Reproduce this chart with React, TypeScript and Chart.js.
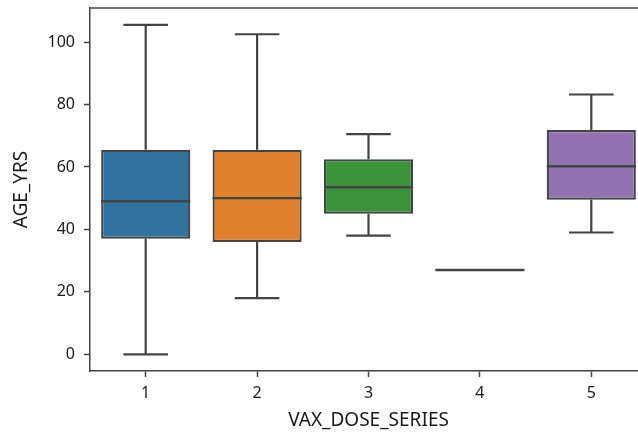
import { useEffect, useRef } from "react";
import { Chart, registerables } from "chart.js";

Chart.register(...registerables);

const categories = ["1", "2", "3", "4", "5"];
const whiskerLow = [0, 18, 38, 27, 39];
const q1 = [37, 36, 45, 27, 49.5];
const median = [49, 50, 53.5, 27, 60.2];
const q3 = [65.5, 65.5, 62.5, 27, 71.8];
const whiskerHigh = [105.5, 102.5, 70.5, 27, 83.2];
const boxColors = ["#3274a1", "#e1812c", "#3a923a", "#c03d3e", "#9372b2"];
const yTicks = [0, 20, 40, 60, 80, 100];
const yMin = -5.35;
const yMax = 110.9;

const LINE = "#444444";
const TEXT = "#1a1a1a";
const FONT = "'Noto Sans', 'DejaVu Sans', sans-serif";

const boxPlugin = {
  id: "boxparts",
  beforeDatasetsDraw(chart: any) {
    const { ctx } = chart;
    const xs = chart.scales.x;
    const ys = chart.scales.y;
    const meta = chart.getDatasetMeta(0);
    ctx.save();
    ctx.strokeStyle = LINE;
    ctx.lineWidth = 2.2;
    ctx.lineCap = "butt";
    categories.forEach((_, i) => {
      const x = xs.getPixelForValue(i);
      const bw = meta.data[i] ? meta.data[i].width : 80;
      const cap = bw / 4;
      const yLo = ys.getPixelForValue(whiskerLow[i]);
      const yQ1 = ys.getPixelForValue(q1[i]);
      const yQ3 = ys.getPixelForValue(q3[i]);
      const yHi = ys.getPixelForValue(whiskerHigh[i]);
      if (whiskerHigh[i] !== whiskerLow[i]) {
        ctx.beginPath();
        ctx.moveTo(x, yQ3);
        ctx.lineTo(x, yHi);
        ctx.moveTo(x - cap, yHi);
        ctx.lineTo(x + cap, yHi);
        ctx.moveTo(x, yQ1);
        ctx.lineTo(x, yLo);
        ctx.moveTo(x - cap, yLo);
        ctx.lineTo(x + cap, yLo);
        ctx.stroke();
      }
    });
    ctx.restore();
  },
  afterDatasetsDraw(chart: any) {
    const { ctx, chartArea } = chart;
    const xs = chart.scales.x;
    const ys = chart.scales.y;
    const meta = chart.getDatasetMeta(0);
    ctx.save();
    ctx.strokeStyle = LINE;
    ctx.lineWidth = 2.4;
    categories.forEach((_, i) => {
      const x = xs.getPixelForValue(i);
      const bw = meta.data[i] ? meta.data[i].width : 80;
      const ym = ys.getPixelForValue(median[i]);
      ctx.beginPath();
      ctx.moveTo(x - bw / 2, ym);
      ctx.lineTo(x + bw / 2, ym);
      ctx.stroke();
    });
    // frame (top and right spines)
    ctx.strokeStyle = LINE;
    ctx.lineWidth = 1.5;
    ctx.beginPath();
    ctx.moveTo(chartArea.left, chartArea.top);
    ctx.lineTo(chartArea.right, chartArea.top);
    ctx.lineTo(chartArea.right, chartArea.bottom);
    ctx.stroke();
    ctx.restore();
  },
};

export default function App() {
  const ref = useRef<HTMLCanvasElement>(null);
  useEffect(() => {
    document.body.style.overflow = "hidden";
    const chart = new Chart(ref.current!, {
      type: "bar",
      data: {
        labels: categories,
        datasets: [
          {
            data: categories.map((_, i) => [q1[i], q3[i]]) as any,
            backgroundColor: boxColors,
            borderColor: LINE,
            borderWidth: 2.2,
            borderSkipped: false,
            barPercentage: 0.8,
            categoryPercentage: 1,
          },
        ],
      },
      options: {
        animation: false,
        responsive: false,
        maintainAspectRatio: false,
        layout: { padding: { top: 8, right: 3, left: 0, bottom: 0 } },
        plugins: { legend: { display: false }, tooltip: { enabled: false } },
        scales: {
          x: {
            offset: true,
            grid: {
              display: true,
              drawOnChartArea: false,
              drawTicks: true,
              tickLength: 6,
              tickColor: LINE,
              tickWidth: 1.5,
              offset: false,
            },
            border: { display: true, color: LINE, width: 1.5 },
            ticks: { color: TEXT, font: { family: FONT, size: 16 }, padding: 7 },
            title: {
              display: true,
              text: "VAX_DOSE_SERIES",
              color: TEXT,
              font: { family: FONT, size: 19 },
              padding: { top: 2, bottom: 4.5 },
            },
            afterFit: (s: any) => {
              s.height = 436 - 371;
              s.paddingLeft = 0;
              s.paddingRight = 0;
            },
          },
          y: {
            min: yMin,
            max: yMax,
            afterBuildTicks: (s: any) => {
              s.ticks = yTicks.map((v) => ({ value: v }));
            },
            grid: {
              display: true,
              drawOnChartArea: false,
              drawTicks: true,
              tickLength: 6,
              tickColor: LINE,
              tickWidth: 1.5,
            },
            border: { display: true, color: LINE, width: 1.5 },
            ticks: { color: TEXT, font: { family: FONT, size: 16 }, padding: 9 },
            title: {
              display: true,
              text: "AGE_YRS",
              color: TEXT,
              font: { family: FONT, size: 19 },
              padding: { top: 10, bottom: 4 },
            },
            afterFit: (s: any) => {
              s.width = 90;
              s.paddingTop = 0;
              s.paddingBottom = 0;
            },
          },
        },
      },
      plugins: [boxPlugin],
    });
    return () => chart.destroy();
  }, []);
  return (
    <div style={{ position: "fixed", left: 0, top: 0, width: 650, height: 436, background: "#fff" }}>
      <canvas ref={ref} width={650} height={436} style={{ display: "block" }} />
    </div>
  );
}
